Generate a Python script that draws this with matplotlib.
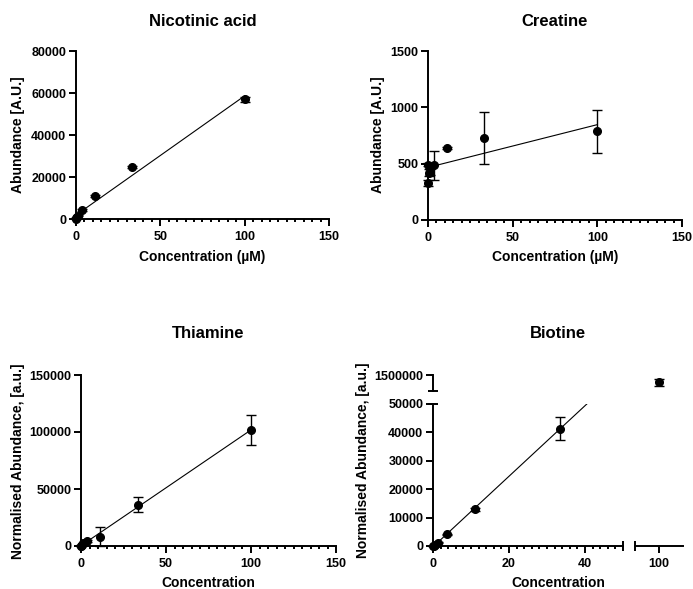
import numpy as np
import matplotlib
matplotlib.use("Agg")
import matplotlib.pyplot as plt
from matplotlib.ticker import MultipleLocator, FixedLocator, StrMethodFormatter

# -------------------------
# Data (means and SD)
# -------------------------
conc = [0, 0.14, 0.41, 1.23, 3.7, 11.1, 33.3, 100]

nicotinic_mean = [200, 450, 800, 1500, 4300, 10900, 24800, 57000]
nicotinic_sd = [50, 80, 100, 200, 300, 500, 600, 1200]

creatine_mean = [328, 491, 420, 426, 485, 636, 728, 788]
creatine_sd = [30, 15, 30, 25, 130, 10, 234, 190]

thiamine_mean = [0, 300, 1000, 2500, 4700, 8200, 36000, 101500]
thiamine_sd = [100, 200, 300, 500, 800, 8200, 6600, 13300]

biotine_mean = [0, 100, 350, 1170, 4100, 12900, 41300, 1360000]
biotine_sd = [50, 50, 100, 200, 300, 400, 4150, 70000]

W, H = 693, 589

plt.rcParams["font.family"] = ["Liberation Sans", "DejaVu Sans"]
plt.rcParams["font.weight"] = "bold"
plt.rcParams["axes.labelweight"] = "bold"


def rect(left, top, right, bottom):
    # pixel box -> figure fraction
    return [left / W, 1 - bottom / H, (right - left) / W, (bottom - top) / H]


def ftext(x, y, s, size=10, rot=0):
    fig.text(x / W, 1 - y / H, s, ha="center", va="center",
             fontsize=size, fontweight="bold", rotation=rot)


def style(ax, left=True, bottom=True):
    ax.set_facecolor("none")
    ax.spines["top"].set_visible(False)
    ax.spines["right"].set_visible(False)
    ax.spines["left"].set_visible(left)
    ax.spines["bottom"].set_visible(bottom)
    for s in ax.spines.values():
        s.set_linewidth(1.4)
    ax.tick_params(which="major", length=5, width=1.4, labelsize=9, pad=3.5,
                   left=left, bottom=bottom, labelleft=left, labelbottom=bottom)
    ax.tick_params(axis="y", which="major", pad=2)
    ax.tick_params(which="minor", length=2.5, width=1.4)
    ax.tick_params(axis="y", which="minor", left=False)
    ax.yaxis.set_major_formatter(StrMethodFormatter("{x:.0f}"))


def points(ax, x, y, err):
    # only the points that fall inside this axes' x/y window
    x0, x1 = sorted(ax.get_xlim())
    y0, y1 = sorted(ax.get_ylim())
    keep = [x0 <= a <= x1 and y0 <= b <= y1 for a, b in zip(x, y)]
    if not any(keep):
        return
    xs = [a for a, k in zip(x, keep) if k]
    ys = [b for b, k in zip(y, keep) if k]
    es = [e for e, k in zip(err, keep) if k]
    cont = ax.errorbar(xs, ys, yerr=es, fmt="o", color="black", ms=5.5,
                       elinewidth=1, capsize=3.5, capthick=1, zorder=3)
    for art in cont.get_children():
        art.set_clip_on(False)


def fit_line(ax, x, y, xs):
    coef = np.polyfit(x, y, 1)
    xs = np.asarray(xs, dtype=float)
    ax.plot(xs, np.polyval(coef, xs), color="black", lw=0.8, zorder=2)


def cap(ax, x, y, marker):
    ax.plot([x], [y], marker=marker, ms=7, mew=1.4, color="black",
            transform=ax.transAxes, clip_on=False)


fig = plt.figure(figsize=(W / 100, H / 100), dpi=100)

# -------------------------
# Nicotinic acid
# -------------------------
ax1 = fig.add_axes(rect(76, 51, 329, 219))
style(ax1)
ax1.set_xlim(0, 150)
ax1.set_ylim(0, 80000)
points(ax1, conc, nicotinic_mean, nicotinic_sd)
fit_line(ax1, conc, nicotinic_mean, [min(conc), max(conc)])
ax1.set_xticks([0, 50, 100, 150])
ax1.xaxis.set_minor_locator(MultipleLocator(5))
ax1.set_yticks([0, 20000, 40000, 60000, 80000])
ftext(202.5, 22, "Nicotinic acid", 12)
ftext(202.5, 257, "Concentration (µM)")
ftext(18, 135, "Abundance [A.U.]", rot=90)

# -------------------------
# Creatine
# -------------------------
ax2 = fig.add_axes(rect(428, 51, 682, 220))
style(ax2)
ax2.set_xlim(0, 150)
ax2.set_ylim(0, 1500)
points(ax2, conc, creatine_mean, creatine_sd)
fit_line(ax2, conc, creatine_mean, [min(conc), max(conc)])
ax2.set_xticks([0, 50, 100, 150])
ax2.xaxis.set_minor_locator(MultipleLocator(5))
ax2.set_yticks([0, 500, 1000, 1500])
ftext(555, 22, "Creatine", 12)
ftext(555, 257, "Concentration (µM)")
ftext(378, 135, "Abundance [A.U.]", rot=90)

# -------------------------
# Thiamine
# -------------------------
ax3 = fig.add_axes(rect(81, 375, 336, 546))
style(ax3)
ax3.set_xlim(0, 150)
ax3.set_ylim(0, 150000)
points(ax3, conc, thiamine_mean, thiamine_sd)
fit_line(ax3, conc, thiamine_mean, [min(conc), max(conc)])
ax3.set_xticks([0, 50, 100, 150])
ax3.xaxis.set_minor_locator(MultipleLocator(5))
ax3.set_yticks([0, 50000, 100000, 150000])
ftext(208.5, 333, "Thiamine", 12)
ftext(208.5, 583, "Concentration")
ftext(18, 461, "Normalised Abundance, [a.u.]", rot=90)

# -------------------------
# Biotine (broken x and y axes)
# -------------------------
low_l = fig.add_axes(rect(433, 404, 623, 546))
low_r = fig.add_axes(rect(635, 404, 683, 546))
up_l = fig.add_axes(rect(433, 375, 623, 391))
up_r = fig.add_axes(rect(635, 375, 683, 391))

style(low_l)
style(low_r, left=False)
style(up_l, bottom=False)
style(up_r, left=False, bottom=False)

for ax in (low_l, up_l):
    ax.set_xlim(0, 50)
for ax in (low_r, up_r):
    ax.set_xlim(94, 106)
for ax in (low_l, low_r):
    ax.set_ylim(0, 50000)
for ax in (up_l, up_r):
    ax.set_ylim(1200000, 1500000)

for ax in (low_l, low_r, up_l, up_r):
    points(ax, conc, biotine_mean, biotine_sd)

lin = [c <= 40 for c in conc]
bx = [c for c, k in zip(conc, lin) if k]
by = [v for v, k in zip(biotine_mean, lin) if k]
fit_line(low_l, bx, by, low_l.get_xlim())

low_l.set_xticks([0, 20, 40])
low_l.xaxis.set_minor_locator(FixedLocator(np.arange(2, 50, 2)))
low_l.set_yticks([0, 10000, 20000, 30000, 40000, 50000])
low_r.set_xticks([100])
up_l.set_yticks([1500000])

cap(low_l, 1, 0, "|")
cap(low_r, 0, 0, "|")
cap(low_l, 0, 1, "_")
cap(up_l, 0, 0, "_")

ftext(558, 333, "Biotine", 12)
ftext(558, 583, "Concentration")
ftext(363, 460, "Normalised Abundance, [a.u.]", rot=90)

fig.savefig("out.png", dpi=100)
